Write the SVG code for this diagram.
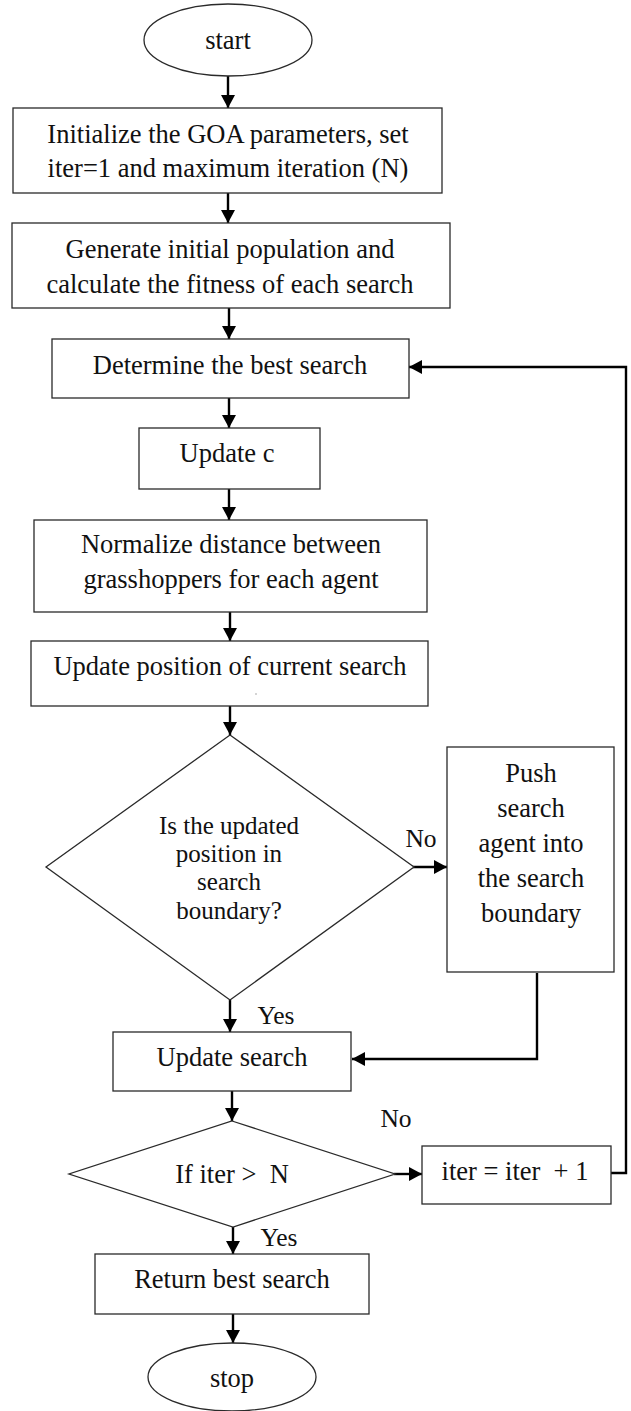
<svg xmlns="http://www.w3.org/2000/svg" width="631" height="1411" viewBox="0 0 631 1411">
  <style>
    .shape { fill: #ffffff; stroke: #2a2a2a; stroke-width: 1.3; }
    .conn { fill: none; stroke: #000000; stroke-width: 2.4; }
    .t { font-family: "Liberation Serif", "Times New Roman", serif; font-size: 26.5px; fill: #111111; text-anchor: middle; }
    .td { font-family: "Liberation Serif", "Times New Roman", serif; font-size: 25px; fill: #111111; text-anchor: middle; }
    .lbl { font-family: "Liberation Serif", "Times New Roman", serif; font-size: 25.5px; fill: #111111; text-anchor: middle; }
  </style>
  <defs>
    <marker id="arrow" markerUnits="userSpaceOnUse" markerWidth="14" markerHeight="14" refX="13" refY="7" orient="auto">
      <path d="M0,0 L13,7 L0,14 z" fill="#000000"/>
    </marker>
  </defs>
  <rect width="631" height="1411" fill="#ffffff"/>

  <!-- connectors -->
  <g id="connectors" class="conn" marker-end="url(#arrow)">
    <path d="M228,76 V108"/>
    <path d="M228,193 V223"/>
    <path d="M229,308 V339"/>
    <path d="M229,398 V428"/>
    <path d="M229,489 V520"/>
    <path d="M230,612 V641"/>
    <path d="M230,706 V735"/>
    <path d="M412,867 H447"/>
    <path d="M230,1000 V1032"/>
    <path d="M537,973 V1059 H352"/>
    <path d="M232,1091 V1121"/>
    <path d="M394,1174 H422"/>
    <path d="M611,1173 H626 V367 H409"/>
    <path d="M233,1227 V1254"/>
    <path d="M233,1314 V1343"/>
  </g>

  <!-- nodes -->
  <g id="start">
    <ellipse class="shape" cx="228" cy="40" rx="84" ry="36"/>
    <text class="t" x="228" y="49">start</text>
  </g>
  <g id="init">
    <rect class="shape" x="13" y="108" width="429" height="85"/>
    <text class="t" x="228" y="143">Initialize the GOA parameters, set</text>
    <text class="t" x="228" y="177">iter=1 and maximum iteration (N)</text>
  </g>
  <g id="generate">
    <rect class="shape" x="12" y="223" width="438" height="85"/>
    <text class="t" x="230" y="258">Generate initial population and</text>
    <text class="t" x="230" y="293">calculate the fitness of each search</text>
  </g>
  <g id="determine">
    <rect class="shape" x="52" y="339" width="357" height="59"/>
    <text class="t" x="230" y="374">Determine the best search</text>
  </g>
  <g id="update-c">
    <rect class="shape" x="139" y="428" width="181" height="61"/>
    <text class="t" x="227" y="462">Update c</text>
  </g>
  <g id="normalize">
    <rect class="shape" x="34" y="520" width="393" height="92"/>
    <text class="t" x="231" y="553">Normalize distance between</text>
    <text class="t" x="231" y="588">grasshoppers for each agent</text>
  </g>
  <g id="update-position">
    <rect class="shape" x="31" y="641" width="397" height="65"/>
    <text class="t" x="230" y="675">Update position of current search</text>
    <circle cx="256" cy="694" r="0.7" fill="#888888"/>
  </g>
  <g id="boundary-check">
    <polygon class="shape" points="230,735 414,867 230,1000 46,867"/>
    <text class="td" x="229" y="834">Is the updated</text>
    <text class="td" x="229" y="862">position in</text>
    <text class="td" x="229" y="890">search</text>
    <text class="td" x="229" y="919">boundary?</text>
    <text class="lbl" x="421" y="847">No</text>
    <text class="lbl" x="276" y="1024">Yes</text>
  </g>
  <g id="push">
    <rect class="shape" x="447" y="747" width="167" height="225"/>
    <text class="t" x="531" y="782">Push</text>
    <text class="t" x="531" y="817">search</text>
    <text class="t" x="531" y="852">agent into</text>
    <text class="t" x="531" y="887">the search</text>
    <text class="t" x="531" y="922">boundary</text>
  </g>
  <g id="update-search">
    <rect class="shape" x="113" y="1032" width="238" height="59"/>
    <text class="t" x="232" y="1066">Update search</text>
  </g>
  <g id="iteration-check">
    <polygon class="shape" points="232,1121 395,1174 233,1227 69,1174"/>
    <text class="t" x="232" y="1183" xml:space="preserve">If iter &gt;  N</text>
    <text class="lbl" x="396" y="1127">No</text>
    <text class="lbl" x="279" y="1246">Yes</text>
  </g>
  <g id="increment">
    <rect class="shape" x="422" y="1146" width="189" height="58"/>
    <text class="t" x="515" y="1180" xml:space="preserve">iter = iter  + 1</text>
  </g>
  <g id="return">
    <rect class="shape" x="95" y="1254" width="274" height="60"/>
    <text class="t" x="232" y="1288">Return best search</text>
  </g>
  <g id="stop">
    <ellipse class="shape" cx="232" cy="1377" rx="84" ry="34"/>
    <text class="t" x="232" y="1387">stop</text>
  </g>
</svg>
